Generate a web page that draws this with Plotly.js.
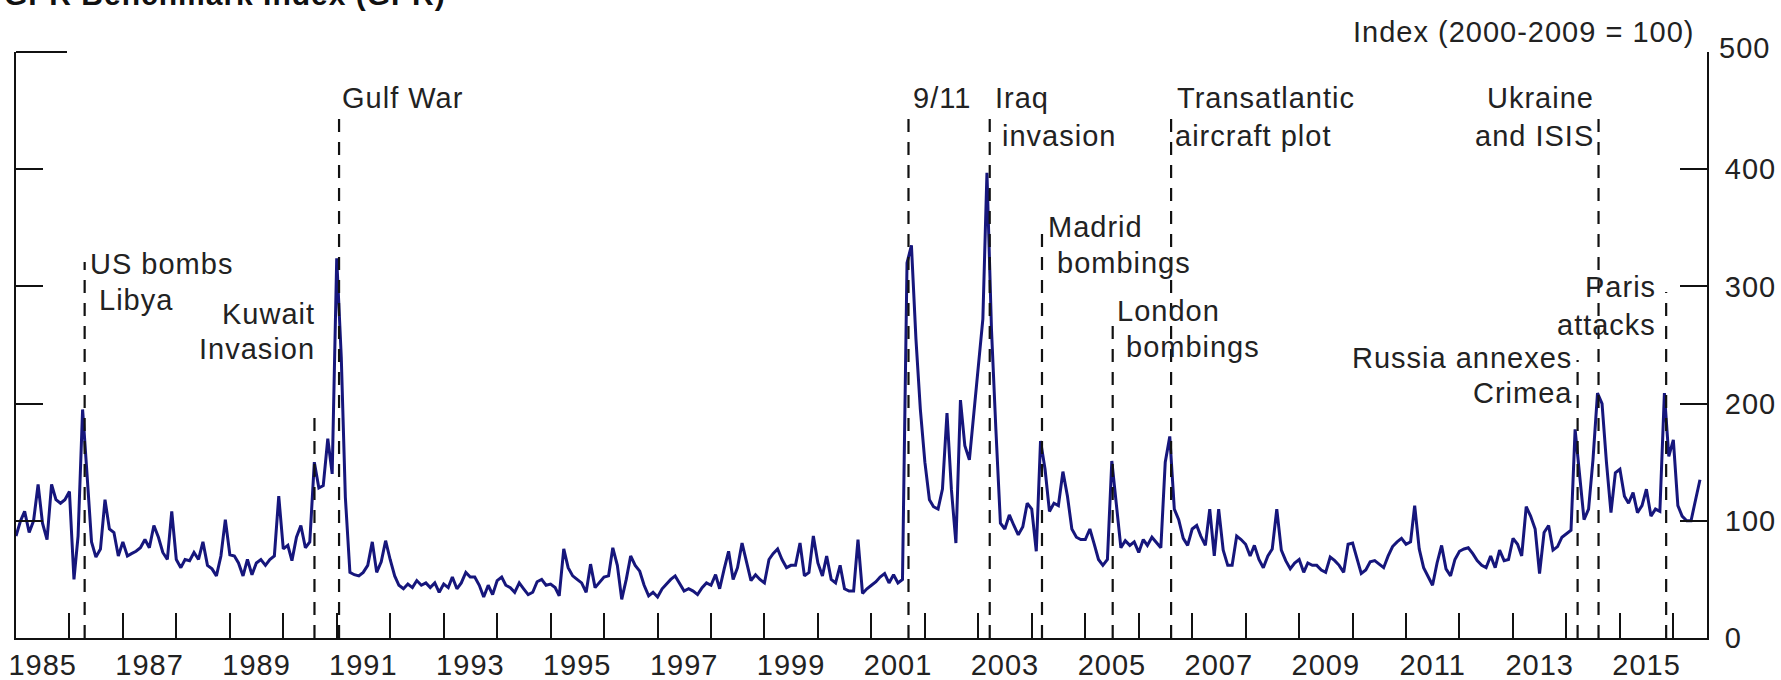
<!DOCTYPE html>
<html>
<head>
<meta charset="utf-8">
<script src="https://cdn.plot.ly/plotly-3.0.1.min.js"></script>
<style>
  html, body { margin: 0; padding: 0; background: #ffffff; }
  #chart { width: 1781px; height: 680px; }
  svg text { letter-spacing: 1px; }
</style>
</head>
<body>
<div id="chart"></div>
<script>
// ---------------- DATA (monthly GPR benchmark index, 2000-2009 = 100) ----------------
const startYear = 1985;

const gpr1985to1989 = [
  87,100,108,90,100,131,98,84,131,118,115,118,
  125,50,87,195,140,82,69,76,118,93,90,70,
  82,70,72,74,77,84,77,96,86,73,67,108,
  67,60,67,66,73,67,82,62,59,53,70,101,
  71,70,64,53,67,54,64,67,62,67,70,121
];
const gpr1990to1999 = [
  76,79,66,86,96,77,82,150,128,130,170,140,
  324,240,120,56,54,53,56,62,82,56,65,83,
  67,53,45,42,46,43,49,45,47,43,47,39,
  46,43,52,42,47,56,52,52,45,35,45,37,
  49,52,45,43,39,47,42,37,39,48,50,45,
  46,43,36,76,60,53,50,47,39,63,43,47,
  52,53,77,62,33,50,70,62,57,45,36,39,
  35,42,46,50,53,47,40,42,40,37,43,47,
  45,54,42,59,74,50,60,81,64,49,54,50,
  47,67,72,76,67,60,62,62,81,53,56,87
];
const gpr2000to2009 = [
  64,53,70,50,47,62,42,40,40,84,38,42,
  45,48,52,55,47,54,47,50,320,335,255,195,
  150,118,112,110,127,192,127,81,203,164,152,192,
  228,272,397,263,178,98,93,105,96,88,95,115,
  110,74,168,144,108,115,113,142,121,93,86,84,
  84,93,81,67,62,67,151,115,77,83,79,82,
  73,84,79,86,82,77,150,172,110,101,85,79,
  93,96,87,79,110,70,110,75,62,62,87,84,
  80,70,79,67,60,70,76,110,75,66,59,64,
  67,56,64,62,62,58,56,69,66,62,56,80
];
const gpr2010to2016 = [
  81,66,55,58,65,66,63,60,70,78,82,85,
  80,82,113,76,60,53,45,64,79,59,53,67,
  74,76,77,72,66,62,60,70,60,75,66,67,
  85,80,70,112,104,93,55,90,96,75,78,86,
  89,92,178,140,101,110,152,209,200,150,107,141,
  144,121,115,124,107,113,127,104,110,108,209,155,
  169,113,104,100,100,118,135
];

// Events marked by dashed lines
const eventDates = ['1986-04-15','1990-08-02','1991-01-17','2001-09-11','2003-03-20',
                    '2004-03-11','2005-07-07','2006-08-10','2014-03-18','2014-08-08','2015-11-13'];
const eventLabelLines = [
  ['US bombs','Libya'], ['Kuwait','Invasion'], ['Gulf War'], ['9/11'], ['Iraq','invasion'],
  ['Madrid','bombings'], ['London','bombings'], ['Transatlantic','aircraft plot'],
  ['Russia annexes','Crimea'], ['Ukraine','and ISIS'], ['Paris','attacks']
];

// Axis tick labels
const yTickValues = [0,100,200,300,400,500];
const yTickLabels = ['0','100','200','300','400',''];
const yearLabels = ['1985','1987','1989','1991','1993','1995','1997','1999',
                    '2001','2003','2005','2007','2009','2011','2013','2015'];

const chartTitle = 'GPR Benchmark Index (GPR)';
const unitLabel = 'Index (2000-2009 = 100)';
const topTickLabel = '500';

// ---------------- BUILD ----------------
const gprValues = [].concat(gpr1985to1989, gpr1990to1999, gpr2000to2009, gpr2010to2016);
const monthDates = gprValues.map((v, i) => {
  const y = startYear + Math.floor(i / 12);
  const m = (i % 12) + 1;
  return y + '-' + String(m).padStart(2, '0') + '-01';
});
const yearLabelDates = yearLabels.map(y => y + '-07-02');

// Pixel layout helpers (figure is 1781 x 680)
const W = 1781, H = 680;
const M = { l: 16, r: 74, t: 52, b: 42 };
const PW = W - M.l - M.r, PH = H - M.t - M.b;
const px2x = px => (px - M.l) / PW;
const py2y = py => (H - M.b - py) / PH;

const FONT = 'Liberation Sans, Arial, sans-serif';
const TXT = '#222222';
const FS = 29;

// label placement for each event: [px, py, anchor] per line, and dashed line top (px)
const eventPlacement = [
  { top: 262, lines: [[89, 264, 'left'], [98, 300, 'left']] },
  { top: 413, lines: [[316, 314, 'right'], [316, 349, 'right']] },
  { top: 112, lines: [[341, 98, 'left']] },
  { top: 113, lines: [[912, 98, 'left']] },
  { top: 112, lines: [[994, 98, 'left'], [1001, 136, 'left']] },
  { top: 232, lines: [[1047, 227, 'left'], [1056, 263, 'left']] },
  { top: 323, lines: [[1116, 311, 'left'], [1125, 347, 'left']] },
  { top: 113, lines: [[1176, 98, 'left'], [1174, 136, 'left']] },
  { top: 360, lines: [[1573, 358, 'right'], [1573, 393, 'right']] },
  { top: 113, lines: [[1595, 98, 'right'], [1595, 136, 'right']] },
  { top: 292, lines: [[1657, 287, 'right'], [1657, 325, 'right']] }
];

const shapes = [];
const annotations = [];

eventDates.forEach((d, i) => {
  const p = eventPlacement[i];
  shapes.push({
    type: 'line', xref: 'x', yref: 'paper', x0: d, x1: d, y0: 0, y1: py2y(p.top),
    line: { color: '#111111', width: 2.2, dash: '13px,10px' }
  });
  eventLabelLines[i].forEach((t, j) => {
    const [px, py, anc] = p.lines[j];
    annotations.push({
      text: t, xref: 'paper', yref: 'paper', x: px2x(px), y: py2y(py),
      xanchor: anc, yanchor: 'middle', showarrow: false,
      font: { family: FONT, size: FS, color: TXT }, borderpad: 0
    });
  });
});

// long top-left segment at 500
shapes.push({
  type: 'line', xref: 'paper', yref: 'paper', x0: 0, x1: px2x(67), y0: 1, y1: 1,
  line: { color: '#111111', width: 2 }
});

annotations.push({
  text: unitLabel, xref: 'paper', yref: 'paper', x: px2x(1695), y: py2y(32),
  xanchor: 'right', yanchor: 'middle', showarrow: false, borderpad: 0,
  font: { family: FONT, size: FS, color: TXT }
});
annotations.push({
  text: topTickLabel, xref: 'paper', yref: 'paper', x: px2x(1718), y: py2y(48),
  xanchor: 'left', yanchor: 'middle', showarrow: false, borderpad: 0,
  font: { family: FONT, size: FS, color: TXT }
});
annotations.push({
  text: '<b>' + chartTitle + '</b>', xref: 'paper', yref: 'paper', x: px2x(3), y: py2y(-6),
  xanchor: 'left', yanchor: 'middle', showarrow: false, borderpad: 0,
  font: { family: FONT, size: 30, color: '#111111' }
});

const trace = {
  x: monthDates, y: gprValues, type: 'scatter', mode: 'lines',
  line: { color: '#16167c', width: 3 }, hoverinfo: 'skip'
};

const layout = {
  width: W, height: H,
  margin: M,
  paper_bgcolor: '#ffffff', plot_bgcolor: '#ffffff',
  showlegend: false,
  xaxis: {
    type: 'date', range: ['1985-01-01', '2016-08-18'],
    showline: true, linecolor: '#111111', linewidth: 2, mirror: false,
    showgrid: false, zeroline: false,
    tickmode: 'array', tickvals: yearLabelDates, ticktext: yearLabels,
    ticks: 'inside', ticklen: 0, tickwidth: 0,
    tickfont: { family: FONT, size: FS, color: TXT },
    ticklabelstandoff: 0,
    minor: { tickmode: 'linear', tick0: '1986-01-01', dtick: 'M12',
             ticks: 'inside', ticklen: 25, tickwidth: 2, tickcolor: '#111111', showgrid: false }
  },
  yaxis: {
    range: [0, 500], side: 'right',
    showline: true, linecolor: '#111111', linewidth: 2, mirror: 'ticks',
    showgrid: false, zeroline: false,
    tickmode: 'array', tickvals: yTickValues, ticktext: yTickLabels,
    ticks: 'inside', ticklen: 27, tickwidth: 2, tickcolor: '#111111',
    tickfont: { family: FONT, size: FS, color: TXT },
    ticklabelstandoff: 10
  },
  shapes: shapes,
  annotations: annotations
};

Plotly.newPlot('chart', [trace], layout, { displayModeBar: false, staticPlot: true });
</script>
</body>
</html>
